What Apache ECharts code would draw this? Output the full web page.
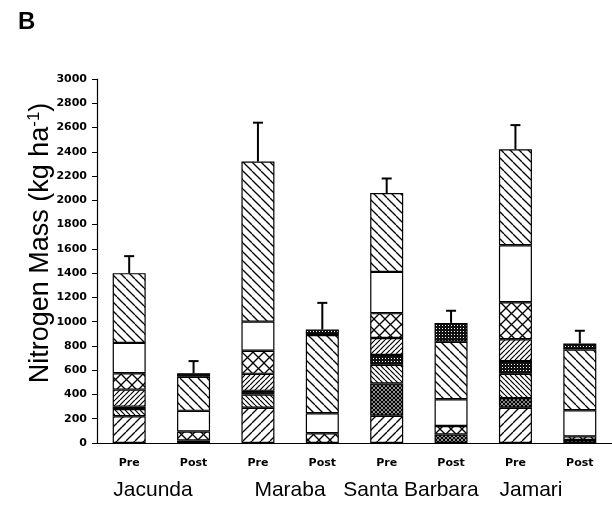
<!DOCTYPE html>
<html>
<head>
<meta charset="utf-8">
<script src="https://cdn.jsdelivr.net/npm/echarts@6/dist/echarts.min.js"></script>
<style>
	html, body { margin: 0; padding: 0; background: #fff; }
	#chart { width: 612px; height: 509px; }
</style>
</head>
<body>
<div id="chart"></div>
<script>
// bars: one Pre / Post pair for each site
var categories = ['Pre', 'Post', 'Pre', 'Post', 'Pre', 'Post', 'Pre', 'Post'];
var sites = ['Jacunda', 'Maraba', 'Santa Barbara', 'Jamari'];

// stacked segments, bottom to top (kg/ha)
var slashWide  = [220,   0,  290,   0, 225,   0, 290,   0];
var stipple    = [  0,  20,    0,   0, 265,  70,  80,  25];
var backDense  = [ 60,   0,  110,   0, 155,   0, 200,   0];
var dotted     = [ 20,   0,   30,   0,  80,   0, 105,   0];
var slashDense = [140,   0,  140,   0, 140,   0, 180,   0];
var cross      = [135,  75,  190,  80, 205,  70, 305,  30];
var blank      = [250, 170,  240, 165, 340, 220, 470, 215];
var backWide   = [575, 280, 1320, 645, 650, 475, 790, 500];
var darkTop    = [  0,  30,    0,  45,   0, 155,   0,  50];

// upper end of the error bar
var errTop = [1540, 675, 2640, 1155, 2180, 1090, 2620, 925];

var yTicks = [0, 3000, 200];

(function () {
	'use strict';

	function tile(size) {
		var c = document.createElement('canvas');
		c.width = size;
		c.height = size;
		var ctx = c.getContext('2d');
		ctx.fillStyle = '#fff';
		ctx.fillRect(0, 0, size, size);
		return c;
	}

	// diagonal hatching, dir '/' or '\\'
	function hatch(size, dirs, lw) {
		var c = tile(size);
		var ctx = c.getContext('2d');
		ctx.strokeStyle = '#000';
		ctx.lineWidth = lw;
		for (var d = 0; d < dirs.length; d++) {
			for (var k = -1; k <= 1; k++) {
				ctx.beginPath();
				if (dirs[d] === '/') {
					ctx.moveTo(k * size, size);
					ctx.lineTo(k * size + size, 0);
				} else {
					ctx.moveTo(k * size, 0);
					ctx.lineTo(k * size + size, size);
				}
				ctx.stroke();
			}
		}
		return { image: c, repeat: 'repeat' };
	}

	function specks(size) {
		var c = tile(size);
		var ctx = c.getContext('2d');
		ctx.fillStyle = '#111';
		ctx.fillRect(0, 0, size, size);
		ctx.fillStyle = '#fff';
		ctx.fillRect(1, 1, 1, 1);
		return { image: c, repeat: 'repeat' };
	}

	var layers = [
		{ name: 'slashWide', data: slashWide, fill: hatch(9, ['/'], 1.3) },
		{ name: 'stipple', data: stipple, fill: hatch(4, ['/', '\\'], 1.3) },
		{ name: 'backDense', data: backDense, fill: hatch(5, ['\\'], 1.2) },
		{ name: 'dotted', data: dotted, fill: specks(3) },
		{ name: 'slashDense', data: slashDense, fill: hatch(5, ['/'], 1.2) },
		{ name: 'cross', data: cross, fill: hatch(11, ['/', '\\'], 1.3) },
		{ name: 'blank', data: blank, fill: '#fff' },
		{ name: 'backWide', data: backWide, fill: hatch(9, ['\\'], 1.3) },
		{ name: 'darkTop', data: darkTop, fill: specks(3) }
	];

	var series = [];
	var totals = categories.map(function () { return 0; });

	layers.forEach(function (l) {
		l.data.forEach(function (v, i) { totals[i] += v; });
		series.push({
			name: l.name,
			type: 'bar',
			stack: 'n',
			barWidth: 33,
			silent: true,
			data: l.data.map(function (v) { return v > 0 ? v : '-'; }),
			itemStyle: { color: l.fill, borderColor: '#000', borderWidth: 1.2 }
		});
	});

	var errData = categories.map(function (c, i) { return [i, totals[i], errTop[i]]; });

	series.push({
		name: 'error',
		type: 'custom',
		silent: true,
		data: errData,
		z: 5,
		renderItem: function (params, api) {
			var base = api.coord([api.value(0), api.value(1)]);
			var top = api.coord([api.value(0), api.value(2)]);
			return {
				type: 'group',
				children: [
					{ type: 'line', shape: { x1: base[0], y1: base[1], x2: top[0], y2: top[1] }, style: { stroke: '#000', lineWidth: 2 } },
					{ type: 'line', shape: { x1: top[0] - 5, y1: top[1], x2: top[0] + 5, y2: top[1] }, style: { stroke: '#000', lineWidth: 2 } }
				]
			};
		}
	});

	var siteX = [153, 290, 411, 531];
	var graphics = [
		{ type: 'text', left: 18, top: 10, style: { text: 'B', font: 'bold 24px "Liberation Sans", Arial, sans-serif', fill: '#000' } },
		{
			type: 'text', x: 41, y: 243, rotation: Math.PI / 2,
			style: {
				text: 'Nitrogen Mass (kg ha{sup|-1})',
				font: '27px "Liberation Sans", Arial, sans-serif',
				fill: '#000', align: 'center', verticalAlign: 'middle',
				rich: { sup: { font: '17px "Liberation Sans", Arial, sans-serif', padding: [0, 0, 13, 0] } }
			}
		}
	];
	sites.forEach(function (s, i) {
		graphics.push({
			type: 'text', x: siteX[i], y: 490,
			style: { text: s, font: '21px "Liberation Sans", Arial, sans-serif', fill: '#000', align: 'center', verticalAlign: 'middle' }
		});
	});

	var chart = echarts.init(document.getElementById('chart'), null, { renderer: 'canvas' });
	chart.setOption({
		animation: false,
		backgroundColor: '#fff',
		grid: { left: 97, top: 79, width: 520, height: 364 },
		xAxis: {
			type: 'category',
			data: categories,
			axisLine: { lineStyle: { color: '#000', width: 1.2 } },
			axisTick: { alignWithLabel: true, length: 4, lineStyle: { color: '#000' } },
			axisLabel: { color: '#000', margin: 15, fontFamily: 'DejaVu Sans', fontWeight: 'bold', fontSize: 11 }
		},
		yAxis: {
			type: 'value',
			min: yTicks[0],
			max: yTicks[1],
			interval: yTicks[2],
			splitLine: { show: false },
			axisLine: { show: true, lineStyle: { color: '#000', width: 1.2 } },
			axisTick: { show: true, length: 5, lineStyle: { color: '#000' } },
			axisLabel: {
				color: '#000', margin: 10, fontFamily: 'DejaVu Sans', fontWeight: 'bold', fontSize: 11,
				formatter: function (v) { return String(v); }
			}
		},
		graphic: graphics,
		series: series
	});
})();
</script>
</body>
</html>
